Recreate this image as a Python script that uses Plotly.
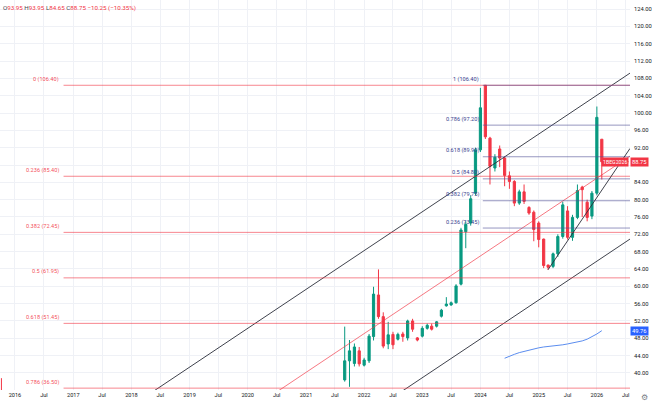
import plotly.graph_objects as go
import pandas as pd

# ---------------- data ----------------
months = pd.date_range("2021-09-01", "2026-02-01", freq="MS")
opens = [38.4, 42.8, 42.2, 45.1, 41.8, 42.8, 48.4, 58.0, 53.0, 46.7, 48.9, 47.8,
         49.0, 48.1, 52.0, 48.1, 48.5, 50.3, 50.8, 50.8, 53.1, 55.5, 55.7, 56.2,
         60.5, 72.6, 74.6, 81.5, 91.5, 106.4, 94.2, 87.3, 91.7, 89.6, 85.5, 84.2,
         79.2, 81.8, 78.2, 77.1, 74.6, 70.9, 64.9, 64.6, 67.5, 71.5, 77.4, 71.3,
         75.9, 82.9, 79.4, 76.2, 81.5, 93.95]
highs = [50.7, 47.6, 46.8, 46.0, 43.5, 49.0, 59.9, 63.9, 54.0, 51.8, 49.5, 49.3,
         49.5, 52.3, 52.5, 48.3, 50.8, 51.4, 51.4, 52.0, 54.8, 57.5, 56.5, 60.5,
         73.5, 75.0, 81.0, 92.0, 105.8, 106.4, 94.5, 90.5, 92.5, 90.0, 86.5, 84.5,
         82.3, 83.5, 78.5, 77.5, 75.0, 71.0, 65.0, 67.8, 72.0, 79.5, 78.5, 76.5,
         83.5, 83.2, 80.0, 82.0, 101.5, 93.95]
lows = [38.0, 36.8, 41.5, 41.5, 41.5, 42.3, 47.5, 52.5, 45.7, 45.5, 45.5, 47.5,
        47.2, 47.5, 49.5, 47.3, 48.2, 50.0, 49.8, 50.5, 52.8, 55.3, 55.5, 56.0,
        60.2, 68.8, 74.0, 81.0, 91.0, 94.0, 83.5, 86.5, 87.5, 83.1, 82.5, 78.5,
        78.8, 79.0, 76.5, 70.4, 69.0, 64.2, 63.8, 64.2, 66.8, 71.0, 70.8, 70.5,
        75.5, 76.0, 75.0, 75.5, 81.0, 84.65]
closes = [42.8, 45.1, 46.0, 42.1, 43.0, 48.5, 58.2, 53.0, 46.2, 48.8, 46.5, 48.9,
          48.4, 52.0, 50.1, 47.6, 50.3, 51.0, 50.1, 51.8, 54.5, 55.9, 56.2, 60.1,
          73.0, 74.3, 80.2, 91.5, 101.2, 94.5, 87.7, 89.8, 89.6, 85.6, 84.2, 79.2,
          81.8, 79.6, 76.9, 73.1, 70.8, 64.8, 64.4, 67.5, 71.5, 78.8, 71.3, 75.9,
          82.1, 82.3, 75.9, 81.5, 99.0, 88.75]

ma_months = pd.date_range("2024-06-01", "2026-02-01", freq="MS")
ma_values = [43.4, 43.9, 44.3, 44.7, 45.0, 45.3, 45.6, 45.8, 46.0, 46.1, 46.2,
             46.3, 46.5, 46.7, 46.9, 47.1, 47.4, 47.8, 48.3, 49.0, 49.76]

red_fib_ratios = ["0", "0.236", "0.382", "0.5", "0.618", "0.786"]
red_fib_prices = [106.40, 85.40, 72.45, 61.95, 51.45, 36.50]
red_fib_start = "2016-11-01"

blue_fib_ratios = ["1", "0.786", "0.618", "0.5", "0.382", "0.236"]
blue_fib_prices = [106.40, 97.20, 89.90, 84.80, 79.75, 73.45]
blue_fib_start = "2024-01-16"

channel_dates = ["2020-01-01", "2026-01-01"]
channel_upper = [50.3, 104.1]
channel_lower = [12.0, 65.8]

trend_dates = ["2025-03-01", "2026-01-01"]
trend_prices = [63.85, 80.5]

edge_mark_dates = ["2015-10-08", "2015-10-08"]
edge_mark_prices = [38.8, 36.0]

x_tick_dates = []
x_tick_text = []
for yr in range(2016, 2027):
    x_tick_dates += [f"{yr}-01-01", f"{yr}-07-01"]
    x_tick_text += [str(yr), "Jul"]
y_ticks = list(range(40, 125, 4))
# the 88.00 label sits under the last-price tag, so it is left blank
y_tick_text = ["" if v == 88 else f"{v:.2f}" for v in y_ticks]

symbol = "1BEG2026"
header = ("O93.95", "H93.95", "L84.65", "C88.75", "−10.25 (−10.35%)")

# ---------------- style ----------------
GREEN = "#089981"
RED = "#f23645"
BLUE = "#2962ff"
TXT = "#131722"
FONT = "Roboto"
X0 = pd.Timestamp("2015-09-29")
X1 = pd.Timestamp("2026-07-28")
Y0, Y1 = 36.07, 126.08


def extend(dates, prices, xa, xb):
    d0, d1 = pd.Timestamp(dates[0]), pd.Timestamp(dates[1])
    slope = (prices[1] - prices[0]) / (d1 - d0).days
    return [prices[0] + slope * (xa - d0).days, prices[0] + slope * (xb - d0).days]


fig = go.Figure()

# parallel channel
for vals, col in [(channel_upper, "#2a2e39"), (channel_lower, "#2a2e39"),
                  ([(a + b) / 2 for a, b in zip(channel_upper, channel_lower)], "rgba(242,54,69,0.75)")]:
    fig.add_trace(go.Scatter(x=[X0, X1], y=extend(channel_dates, vals, X0, X1), mode="lines",
                             line=dict(color=col, width=0.9), hoverinfo="skip", showlegend=False))

# red fib
for r, p in zip(red_fib_ratios, red_fib_prices):
    fig.add_trace(go.Scatter(x=[pd.Timestamp(red_fib_start), X1], y=[p, p], mode="lines",
                             line=dict(color="rgba(242,54,69,0.6)", width=1), hoverinfo="skip", showlegend=False))
    fig.add_annotation(x=red_fib_start, y=p, xref="x", yref="y", text=f"{r} ({p:.2f})", showarrow=False,
                       xanchor="right", yanchor="middle", xshift=-3, yshift=6,
                       font=dict(family=FONT, size=5.6, color="rgba(242,54,69,0.9)"))

# blue fib
for r, p in zip(blue_fib_ratios, blue_fib_prices):
    fig.add_trace(go.Scatter(x=[pd.Timestamp(blue_fib_start), X1], y=[p, p], mode="lines",
                             line=dict(color="rgba(80,80,150,0.6)", width=1), hoverinfo="skip", showlegend=False))
    fig.add_annotation(x=blue_fib_start, y=p, xref="x", yref="y", text=f"{r} ({p:.2f})", showarrow=False,
                       xanchor="right", yanchor="middle", xshift=-2, yshift=6,
                       font=dict(family=FONT, size=5.6, color="#3a3f8f"))

# rising trendline
t0 = pd.Timestamp(trend_dates[0])
fig.add_trace(go.Scatter(x=[t0, X1], y=extend(trend_dates, trend_prices, t0, X1), mode="lines",
                         line=dict(color="#2a2e39", width=0.9), hoverinfo="skip", showlegend=False))

# edge mark
fig.add_trace(go.Scatter(x=edge_mark_dates, y=edge_mark_prices, mode="lines",
                         line=dict(color=RED, width=1), hoverinfo="skip", showlegend=False))

# moving average
fig.add_trace(go.Scatter(x=ma_months, y=ma_values, mode="lines",
                         line=dict(color="#5b8def", width=1), hoverinfo="skip", showlegend=False))

# last price line
fig.add_trace(go.Scatter(x=[months[-1], X1], y=[closes[-1], closes[-1]], mode="lines",
                         line=dict(color=RED, width=0.8, dash="dot"), hoverinfo="skip", showlegend=False))

# candles
fig.add_trace(go.Candlestick(x=months, open=opens, high=highs, low=lows, close=closes,
                             increasing=dict(line=dict(color=GREEN, width=1), fillcolor=GREEN),
                             decreasing=dict(line=dict(color=RED, width=1), fillcolor=RED),
                             whiskerwidth=0, hoverinfo="skip", showlegend=False))

# price-scale labels
fig.add_annotation(x=1, y=closes[-1], xref="paper", yref="y", text=f"{closes[-1]:.2f}", showarrow=False,
                   xanchor="left", yanchor="middle", bgcolor=RED, borderpad=1,
                   font=dict(family=FONT, size=5.8, color="white"))
fig.add_annotation(x=1, y=closes[-1], xref="paper", yref="y", text=symbol, showarrow=False,
                   xanchor="right", yanchor="middle", bgcolor=RED, borderpad=1, xshift=-1,
                   font=dict(family=FONT, size=5.2, color="white"))
fig.add_annotation(x=1, y=ma_values[-1], xref="paper", yref="y", text=f"{ma_values[-1]:.2f}", showarrow=False,
                   xanchor="left", yanchor="middle", bgcolor=BLUE, borderpad=1,
                   font=dict(family=FONT, size=5.8, color="white"))

# header
parts = [f"<span style='color:#434651'>{h[0]}</span><span style='color:{RED}'>{h[1:]}</span>" for h in header[:4]]
parts.append(f"<span style='color:{RED}'>{header[4]}</span>")
fig.add_annotation(x=0, y=1, xref="paper", yref="paper", text=" ".join(parts), showarrow=False,
                   xanchor="left", yanchor="top", xshift=1, yshift=-2,
                   font=dict(family=FONT, size=6.2, color=TXT))

# settings icon
fig.add_annotation(x=1, y=0, xref="paper", yref="paper", text="⚙", showarrow=False,
                   xanchor="left", yanchor="top", xshift=9, yshift=-1,
                   font=dict(family="DejaVu Sans", size=8, color="#787b86"))

fig.update_layout(
    width=652, height=402,
    margin=dict(l=0, r=22, t=0, b=12),
    paper_bgcolor="white", plot_bgcolor="white",
    showlegend=False,
    xaxis=dict(type="date", range=[X0, X1], rangeslider=dict(visible=False),
               tickvals=x_tick_dates, ticktext=x_tick_text, ticks="",
               showgrid=True, gridcolor="#eff1f6", gridwidth=1, zeroline=False,
               showline=False, tickfont=dict(family=FONT, size=5.6, color=TXT)),
    yaxis=dict(side="right", range=[Y0, Y1], tickvals=y_ticks, ticktext=y_tick_text, ticks="",
               showgrid=True, gridcolor="#eff1f6", gridwidth=1, zeroline=False,
               showline=False, tickfont=dict(family=FONT, size=5.8, color=TXT),
               ticklabelstandoff=3),
)

fig.write_html("out.html", config={"displayModeBar": False},
               post_script="document.body.style.margin='0';document.body.style.padding='0';"
                           "document.documentElement.style.overflow='hidden';")
